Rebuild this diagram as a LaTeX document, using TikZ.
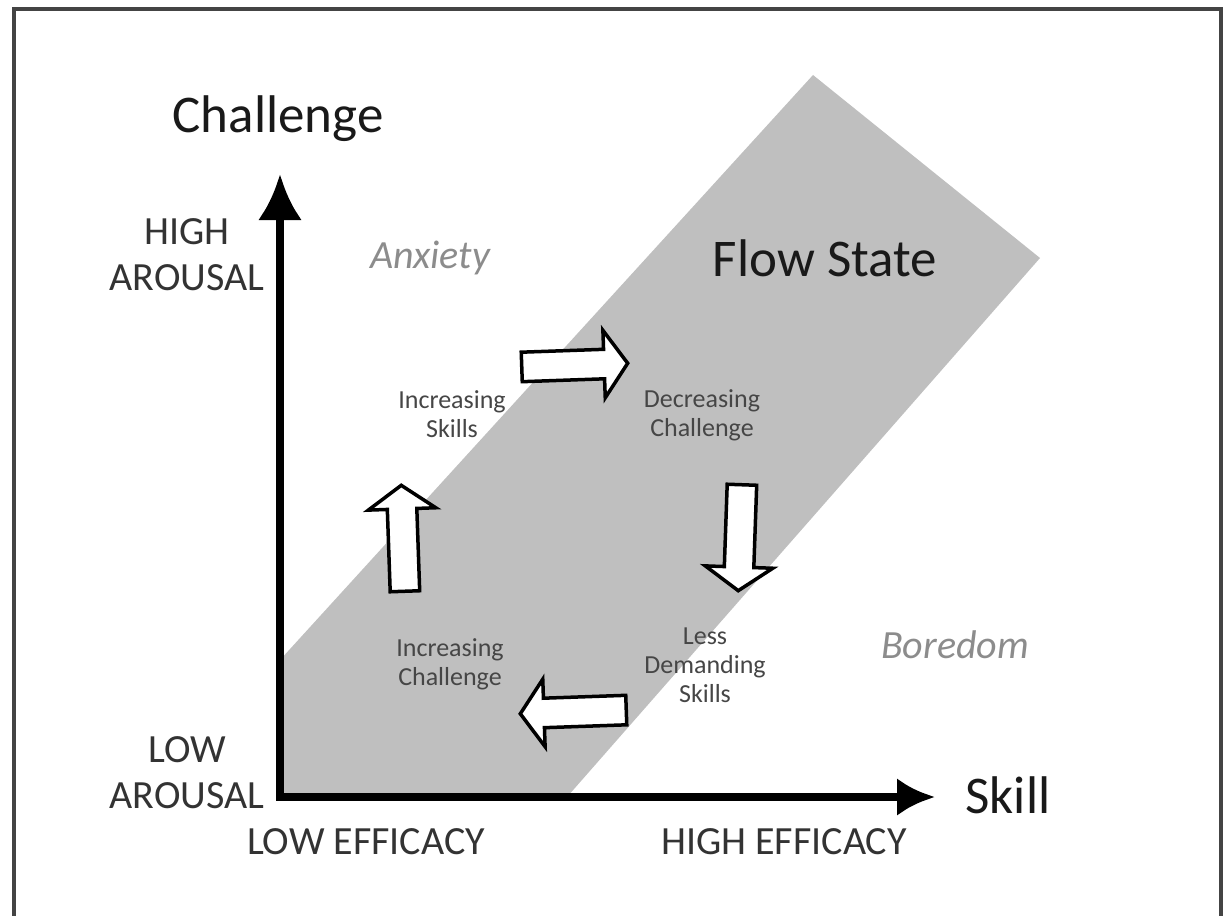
\documentclass[tikz,border=0pt]{standalone}
\usepackage{fontspec}
\setmainfont{Carlito}
\usetikzlibrary{shapes.arrows,arrows.meta}

\definecolor{flowgray}{RGB}{191,191,191}
\definecolor{framegray}{RGB}{68,68,68}
\definecolor{moodgray}{RGB}{140,140,140}
\definecolor{stepgray}{RGB}{70,70,70}

\tikzset{every picture/.style={line width=0.75pt}}
\tikzset{
	axis/.style={line width=8pt, line join=miter, {Latex[length=46pt,width=44pt]}-{Latex[length=38pt,width=38pt]}},
	bigtext/.style={font=\fontsize{53}{64}\selectfont, text=black!90, inner sep=0pt},
	levtext/.style={font=\fontsize{40}{46}\selectfont, text=black!80, align=center, inner sep=0pt},
	moodtext/.style={font=\fontsize{40}{46}\selectfont\itshape, text=moodgray, inner sep=0pt},
	steptext/.style={font=\fontsize{26}{29}\selectfont, text=stepgray, align=center, inner sep=0pt},
	turnarrow/.style={single arrow, draw=black, fill=white, line width=3.5pt, inner xsep=0pt, inner ysep=13pt, single arrow head extend=19pt, single arrow tip angle=110, minimum height=106pt},
}

\begin{document}
\begin{tikzpicture}[x=1pt,y=1pt,yscale=-1]
	\useasboundingbox (0,0) rectangle (1225,915);
	
	%Frame
	\draw [framegray, line width=4pt] (14,917) -- (14,9) -- (1221,9) -- (1221,917) ;
	%Shape: Flow band
	\fill [flowgray] (280,660) -- (813,75) -- (1040,258) -- (567,797) -- (280,797) -- cycle ;
	
	%Axes
	\coordinate (origin) at (280,797);
	\coordinate (chaltip) at (280,174);
	\coordinate (skilltip) at (935,797);
	\draw [axis] (chaltip) -- (origin) -- (skilltip) ;
	
	%Block arrows
	\node [turnarrow, rotate=2, anchor=tail] (toright) at (520,367) {};
	\node [turnarrow, rotate=268, anchor=tail] (todown) at (742,483) {};
	\node [turnarrow, rotate=182, anchor=tail] (toleft) at (628,710) {};
	\node [turnarrow, rotate=92, anchor=tail] (toup) at (405,593) {};
	
	% Text Node
	\node [bigtext] (challenge) at (278,119) {Challenge};
	% Text Node
	\node [bigtext] (skill) at (1008,795) {Skill};
	% Text Node
	\node [bigtext] (flow) at (825,258) {Flow State};
	% Text Node
	\node [levtext] (higharousal) at (187,255) {HIGH\\AROUSAL};
	% Text Node
	\node [levtext] (lowarousal) at (187,773) {LOW\\AROUSAL};
	% Text Node
	\node [levtext] (loweff) at (366,842) {LOW EFFICACY};
	% Text Node
	\node [levtext] (higheff) at (784,842) {HIGH EFFICACY};
	% Text Node
	\node [moodtext] (anxiety) at (430,258) {Anxiety};
	% Text Node
	\node [moodtext] (boredom) at (955,645) {Boredom};
	% Text Node
	\node [steptext] (incskills) at (452,414) {Increasing\\Skills};
	% Text Node
	\node [steptext] (decchal) at (702,415) {Decreasing\\Challenge};
	% Text Node
	\node [steptext] (lessdem) at (705,665) {Less\\Demanding\\Skills};
	% Text Node
	\node [steptext] (incchal) at (450,664) {Increasing\\Challenge};
	
\end{tikzpicture}
\end{document}
